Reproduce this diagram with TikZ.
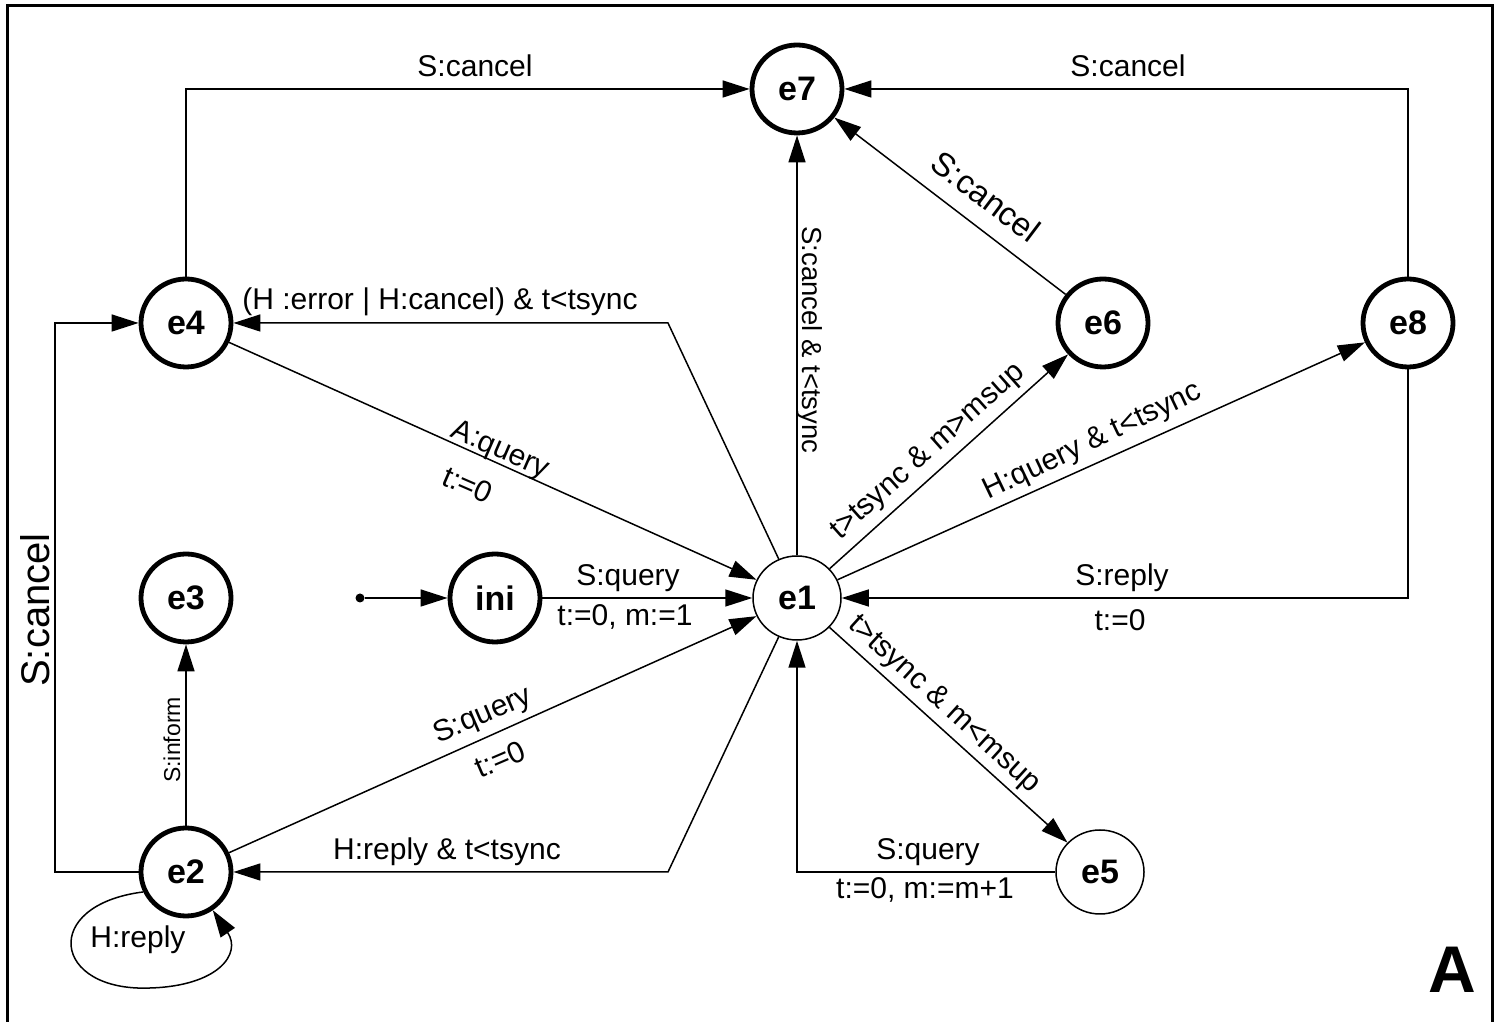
\documentclass[tikz,border=0pt]{standalone}
\usepackage{fontspec}
\setmainfont{Liberation Sans}
\usetikzlibrary{arrows.meta,shapes.geometric}
\begin{document}
\begin{tikzpicture}[x=1pt,y=1pt,
  stthick/.style={ellipse,draw,line width=4.8pt,minimum width=90pt,minimum height=88pt,inner sep=0pt,font=\fontsize{34}{38}\selectfont\bfseries},
  stthin/.style={ellipse,draw,line width=1.5pt,minimum width=88pt,minimum height=84pt,inner sep=0pt,font=\fontsize{34}{38}\selectfont\bfseries},
  tr/.style={line width=1.5pt,-{Triangle[length=27pt,width=17pt]}},
  lab/.style={inner sep=0pt,font=\fontsize{30}{36}\selectfont}]
\useasboundingbox (0,0) rectangle (1496,1022);
\draw[line width=3pt] (7,0) -- (7,1016.5) -- (1492,1016.5) -- (1492,0);
% states
\node[stthick] (e7) at (797,933) {e7};
\node[stthick] (e4) at (186,699) {e4};
\node[stthick] (e6) at (1103,699) {e6};
\node[stthick] (e8) at (1408,699) {e8};
\node[stthick] (e3) at (186,424) {e3};
\node[stthick] (ini) at (495,424) {ini};
\node[stthin] (e1) at (797,424) {e1};
\node[stthick] (e2) at (186,150) {e2};
\node[stthin] (e5) at (1100,150) {e5};
\node[circle,fill,inner sep=0pt,minimum size=9pt] (start) at (360,424) {};
% bend points
\coordinate (b14) at (668,699);
\coordinate (b12) at (668,150);
\coordinate (l2) at (55,150);
\coordinate (l4) at (55,699);
% connectors
\draw[tr] (e4.north) |- (e7.west);
\draw[tr] (e8.north) |- (e7.east);
\draw[tr] (e6) -- (e7);
\draw[tr] (e1.north) -- (e7.south);
\draw[tr] (e1) -- (b14) -- (e4.east);
\draw[tr] (e4) -- (e1);
\draw[tr] (e1) -- (e6);
\draw[tr] (e1) -- (e8);
\draw[tr] (e8.south) |- (e1.east);
\draw[tr] (start) -- (ini);
\draw[tr] (ini) -- (e1);
\draw[tr] (e1) -- (e5);
\draw[tr] (e5.west) -| (e1.south);
\draw[tr] (e2) -- (e1);
\draw[tr] (e1) -- (b12) -- (e2.east);
\draw[tr] (e2.north) -- (e3.south);
\draw[tr] (e2.west) -- (l2) -- (l4) -- (e4.west);
\draw[tr] (e2.205) .. controls (40,117) and (52,30) .. (150,34) .. controls (218,36) and (242,68) .. (e2.-55);
% labels
\node[lab] (t1) at (475,956) {S:cancel};
\node[lab] (t2) at (1128,956) {S:cancel};
\node[lab,rotate=-37,font=\fontsize{33}{38}\selectfont] (t3) at (986,826) {S:cancel};
\node[lab,rotate=-90,font=\fontsize{27.5}{32}\selectfont] (t4) at (810,682) {S:cancel \& t<tsync};
\node[lab] (t5) at (440,720) {(H :error | H:cancel) \& t<tsync};
\node[lab,rotate=-23.5] (t6) at (500,571) {A:query};
\node[lab,rotate=-23.5] (t7) at (468,537) {t:=0};
\node[lab,rotate=41.7] (t8) at (928,570) {t>tsync \& m>msup};
\node[lab,rotate=25.5] (t9) at (1093,580) {H:query \& t<tsync};
\node[lab] (t10) at (1122,444) {S:reply};
\node[lab] (t11) at (1120,402) {t:=0};
\node[lab] (t12) at (628,444) {S:query};
\node[lab] (t13) at (625,405) {t:=0, m:=1};
\node[lab,rotate=90,font=\fontsize{40}{46}\selectfont] (t14) at (35,412) {S:cancel};
\node[lab,rotate=90,font=\fontsize{23}{28}\selectfont] (t15) at (172,282) {S:inform};
\node[lab,rotate=-42.3] (t16) at (944,317) {t>tsync \& m<msup};
\node[lab,rotate=23.2] (t17) at (483,306) {S:query};
\node[lab,rotate=23.2] (t18) at (500,263) {t:=0};
\node[lab] (t19) at (928,170) {S:query};
\node[lab] (t20) at (925,132) {t:=0, m:=m+1};
\node[lab] (t21) at (447,170) {H:reply \& t<tsync};
\node[lab] (t22) at (138,82) {H:reply};
\node[inner sep=0pt,font=\fontsize{66}{70}\selectfont\bfseries] (bigA) at (1452,52) {A};
\end{tikzpicture}
\end{document}
